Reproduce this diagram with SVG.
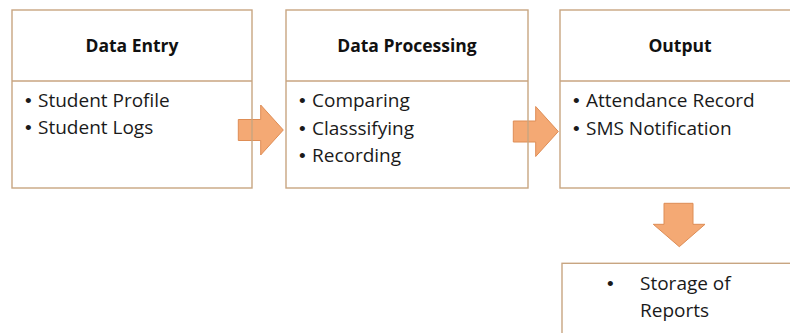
<svg xmlns="http://www.w3.org/2000/svg" width="790" height="333" viewBox="0 0 790 333">
<style>
.box{fill:none;stroke:#C8A581;stroke-width:1.4}
.arrow{fill:#F4A974;stroke:#DE8D55;stroke-width:1}
.title{font-family:"Open Sans","Liberation Sans",sans-serif;font-weight:bold;font-size:17.5px;fill:#111;text-anchor:middle}
.item{font-family:"Open Sans","Liberation Sans",sans-serif;font-size:19px;fill:#1a1a1a}
.bul{font-family:"Liberation Sans",sans-serif;font-size:19px;fill:#1a1a1a}
</style>
<rect width="790" height="333" fill="#ffffff"/>
<g id="connectors">
<polygon class="arrow" points="238.3,119.5 260.7,119.5 260.7,105 283.3,130 260.7,155 260.7,140.5 238.3,140.5"/>
<polygon class="arrow" points="513.3,121 535.7,121 535.7,106.5 558.3,131.5 535.7,156.5 535.7,142 513.3,142"/>
<polygon class="arrow" points="664,203.3 693,203.3 693,224.3 705,224.3 679.3,246.7 653.3,224.3 664,224.3"/>
</g>
<g id="data-entry">
<rect class="box" x="12" y="10" width="240" height="178"/>
<line class="box" x1="12" y1="81" x2="252" y2="81"/>
<text class="title" x="132" y="51.7">Data Entry</text>
<text y="106.7"><tspan class="bul" x="25">•</tspan><tspan class="item" x="38">Student Profile</tspan></text>
<text y="134.3"><tspan class="bul" x="25">•</tspan><tspan class="item" x="38">Student Logs</tspan></text>
</g>
<g id="data-processing">
<rect class="box" x="286" y="10" width="242" height="178"/>
<line class="box" x1="286" y1="81" x2="528" y2="81"/>
<text class="title" x="407" y="51.7">Data Processing</text>
<text y="107"><tspan class="bul" x="299">•</tspan><tspan class="item" x="312">Comparing</tspan></text>
<text y="134.5"><tspan class="bul" x="299">•</tspan><tspan class="item" x="312">Classsifying</tspan></text>
<text y="162"><tspan class="bul" x="299">•</tspan><tspan class="item" x="312">Recording</tspan></text>
</g>
<g id="output">
<rect class="box" x="560" y="10" width="242" height="178"/>
<line class="box" x1="560" y1="81" x2="802" y2="81"/>
<text class="title" x="680" y="51.7">Output</text>
<text y="107"><tspan class="bul" x="573">•</tspan><tspan class="item" x="586">Attendance Record</tspan></text>
<text y="134.5"><tspan class="bul" x="573">•</tspan><tspan class="item" x="586">SMS Notification</tspan></text>
</g>
<g id="storage">
<rect class="box" x="562" y="263.3" width="240" height="90"/>
<text y="289.5"><tspan class="bul" x="607">•</tspan><tspan class="item" x="640">Storage of</tspan></text>
<text y="317"><tspan class="item" x="640">Reports</tspan></text>
</g>
</svg>
